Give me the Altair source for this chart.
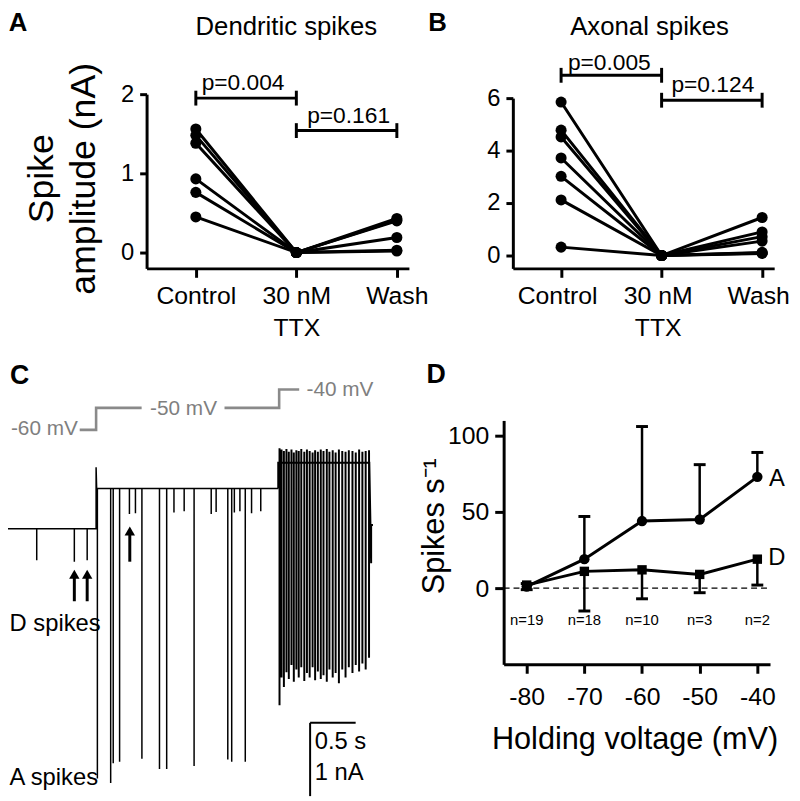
import altair as alt
import pandas as pd

FONT = "Liberation Sans"

# ---------------- Panel A / B data (spike amplitude, nA) ----------------
cond_pos = [0, 1, 2]
dend_control = [1.56, 1.48, 1.38, 0.93, 0.76, 0.45]
dend_ttx = [0.0, 0.0, 0.0, 0.0, 0.0, 0.0]
dend_wash = [0.43, 0.41, 0.19, 0.03, 0.02, 0.40]

axon_control = [5.85, 4.78, 4.52, 3.72, 3.02, 2.12, 0.32]
axon_ttx = [0.0, 0.0, 0.0, 0.0, 0.0, 0.0, 0.0]
axon_wash = [1.45, 0.90, 0.72, 0.55, 0.12, 0.10, 0.08]

p_from = [0, 1]
p_to = [1, 2]
pA_text = ["p=0.004", "p=0.161"]
pA_bar = [1.95, 1.54]
pA_tx = [0.47, 1.52]
pA_ty = [2.14, 1.72]
pB_text = ["p=0.005", "p=0.124"]
pB_bar = [6.87, 5.92]
pB_tx = [0.48, 1.51]
pB_ty = [7.32, 6.49]

# ---------------- Panel D data ----------------
hold_mv = [-80, -70, -60, -50, -40]
axon_rate = [1, 19, 44, 45, 73]
axon_err_hi = [3, 47, 106, 81, 89]
dend_rate = [2, 11, 12, 9, 19]
dend_err_lo = [-1, -15, -7, -3, 2]
n_labels = ["n=19", "n=18", "n=10", "n=3", "n=2"]

# ---------------- Panel C data (current trace, nA vs s) ----------------
base_60 = 0.0
base_50 = 0.55
base_40 = 0.90
t_step1 = 1.0
t_settle1 = 1.006
step1_peak = 0.84
t_step2 = 3.0
t_end = 4.0
d60_t = [0.348, 0.761, 0.902]
d60_amp = [-0.43, -0.45, -0.43]
a50_t = [1.014, 1.160, 1.188, 1.258, 1.503, 1.696, 1.775, 2.076, 2.446, 2.489, 2.638]
a50_amp = [-3.41, -3.47, -3.20, -3.18, -3.14, -3.28, -3.28, -3.24, -3.15, -3.18, -3.18]
d50_t = [1.366, 1.432, 1.855, 1.967, 2.264, 2.318, 2.518, 2.579, 2.707, 2.808]
d50_amp = [0.20, 0.21, 0.22, 0.24, 0.20, 0.23, 0.22, 0.24, 0.21, 0.24]
s40_t = [3.014, 3.036, 3.062, 3.090, 3.116, 3.145, 3.171, 3.199, 3.225, 3.253,
         3.286, 3.315, 3.345, 3.377, 3.405, 3.435, 3.467, 3.497, 3.533, 3.562,
         3.598, 3.630, 3.666, 3.703, 3.739, 3.775, 3.815, 3.851, 3.888, 3.924,
         3.960, 3.997]
s40_amp = [-2.41, -2.03, -2.16, -1.96, -2.05, -1.86, -2.09, -1.92, -2.03, -1.89,
           -2.08, -1.97, -2.03, -1.89, -2.07, -1.95, -2.05, -2.00, -2.09, -1.92,
           -2.03, -1.97, -2.11, -1.92, -2.03, -1.89, -1.97, -1.86, -1.95, -1.84,
           -1.92, -1.76]
s40_peak = [1.10, 1.08, 1.06, 1.09, 1.05, 1.08, 1.04, 1.07, 1.06, 1.09,
            1.05, 1.08, 1.06, 1.04, 1.07, 1.05, 1.08, 1.06, 1.09, 1.05,
            1.07, 1.04, 1.08, 1.06, 1.05, 1.07, 1.06, 1.04, 1.08, 1.05,
            1.06, 1.07]
tail_t = [4.02, 4.02, 4.04]
tail_v = [-0.47, 0.05, 0.05]

proto_t = [0.82, 1.0, 1.0, 1.50, 2.41, 3.01, 3.01, 3.23]
proto_v = [1.35, 1.35, 1.65, 1.65, 1.65, 1.65, 1.90, 1.90]
proto_seg = [0, 0, 0, 0, 1, 1, 1, 1]
proto_text = ["-60 mV", "-50 mV", "-40 mV"]
proto_tx = [0.80, 1.96, 3.31]
proto_ty = [1.36, 1.64, 1.89]
proto_align = ["right", "center", "left"]

arrow_t = [0.761, 0.902, 1.37]
arrow_base = [-0.99, -0.99, -0.45]
arrow_head = [-0.62, -0.62, -0.03]

scalebar_t = [3.35, 3.85]
scalebar_i = [-2.65, -3.65]

# ---------------- helpers ----------------
AX = dict(grid=False, domainColor="black", tickColor="black", labelColor="black",
          domainWidth=3, tickWidth=3, labelFont=FONT, titleFont=FONT,
          labelFlush=False, labelOverlap=False, titleFontWeight="normal",
          titleColor="black")


def txt(df, X, Y, size, align="center", weight="normal", color="black", baseline="middle"):
    return alt.Chart(df).mark_text(fontSize=size, align=align, baseline=baseline,
                                   fontWeight=weight, color=color, font=FONT).encode(
        X, Y, text="label:N")


def pair_panel(control, ttx, wash, xdom, xrange, ydom, yrange, yvals, yaxis_extra,
               yoff, bar_y, p_text, p_tx, p_ty, title, title_xy, letter, letter_xy, lab_off):
    rows = []
    for i, vals in enumerate(zip(control, ttx, wash)):
        for pos, v in zip(cond_pos, vals):
            rows.append({"cell": i, "x": pos, "y": v})
    df = pd.DataFrame(rows)
    xaxis = alt.Axis(values=cond_pos, orient="bottom", offset=-534, tickSize=9,
                     labelPadding=6, labelFontSize=25, labelLineHeight=33,
                     labelBaseline="top", title=None, labelOffset=lab_off,
                     labelExpr="datum.value == 0 ? 'Control' : (datum.value == 1 ? ['30 nM', 'TTX'] : 'Wash')",
                     **AX)
    yaxis = alt.Axis(values=yvals, orient="left", offset=yoff, tickSize=7,
                     labelPadding=6, labelFontSize=24, **yaxis_extra, **AX)
    X = alt.X("x:Q", scale=alt.Scale(domain=xdom, range=xrange, nice=False, zero=False), axis=xaxis)
    Y = alt.Y("y:Q", scale=alt.Scale(domain=ydom, range=yrange, nice=False, zero=False), axis=yaxis)
    lines = alt.Chart(df).mark_line(color="black", strokeWidth=3).encode(X, Y, detail="cell:N")
    pts = alt.Chart(df).mark_circle(color="black", size=125, opacity=1).encode(X, Y)
    br = pd.DataFrame({"x": p_from, "x2": p_to, "y": bar_y})
    hl = alt.Chart(br).mark_rule(color="black", strokeWidth=3).encode(X, alt.X2("x2:Q"), Y)
    caps = pd.DataFrame({"x": p_from + p_to, "y": bar_y + bar_y})
    cp = alt.Chart(caps).mark_tick(orient="vertical", size=15, thickness=3,
                                   color="black", opacity=1).encode(X, Y)
    pt = txt(pd.DataFrame({"x": p_tx, "y": p_ty, "label": p_text}), X, Y, 23)
    tt = txt(pd.DataFrame({"x": [title_xy[0]], "y": [title_xy[1]], "label": [title]}), X, Y, 26)
    lt = txt(pd.DataFrame({"x": [letter_xy[0]], "y": [letter_xy[1]], "label": [letter]}),
             X, Y, 26, weight="bold", baseline="alphabetic")
    return alt.layer(lines, pts, hl, cp, pt, tt, lt)


panelA = pair_panel(dend_control, dend_ttx, dend_wash, [-0.49, 2.12], [140, 405],
                    [-0.2, 2], [259, 83], [0, 1, 2],
                    dict(title=["Spike", "amplitude (nA)"], titleFontSize=36,
                         titleAngle=270, titleX=-106, titleY=168, titleAlign="center",
                         titleBaseline="middle", titleLineHeight=42),
                    -140, pA_bar, pA_text, pA_tx, pA_ty,
                    "Dendritic spikes", (0.9, 2.85), "A", (-1.77, 2.8), 0)

panelB = pair_panel(axon_control, axon_ttx, axon_wash, [-0.48, 2.12], [510, 774],
                    [-0.49, 6], [259, 87], [0, 2, 4, 6], dict(title=None),
                    -510, pB_bar, pB_text, pB_tx, pB_ty,
                    "Axonal spikes", (0.88, 8.7), "B", (-1.23, 8.57), -4)

# ---------------- Panel C ----------------
rows = []


def add(t, v):
    rows.append({"t": t, "v": v, "i": len(rows)})


add(0.0, base_60)
for t, a in zip(d60_t, d60_amp):
    add(t, base_60); add(t, a); add(t, base_60)
add(t_step1, base_60)
add(t_step1, step1_peak)
add(t_settle1, base_50)
events = sorted(list(zip(a50_t, a50_amp)) + list(zip(d50_t, d50_amp)))
for t, a in events:
    add(t, base_50); add(t, a); add(t, base_50)
add(t_step2, base_50)
trace_main = pd.DataFrame(rows)

rows = []
add(t_step2, base_50)
add(t_step2, base_40)
for t, a, p in zip(s40_t, s40_amp, s40_peak):
    add(t, base_40); add(t, p); add(t, a); add(t, base_40)
add(t_end, base_40)
for t, v in zip(tail_t, tail_v):
    add(t, v)
trace_40 = pd.DataFrame(rows)

SXC = alt.Scale(domain=[0, 4.2], range=[-3, 383.4], nice=False, zero=False)
SYC = alt.Scale(domain=[-4, 2.5], range=[818, 337], nice=False, zero=False)
XC = alt.X("t:Q", scale=SXC, axis=None)
YC = alt.Y("v:Q", scale=SYC, axis=None)

c_main = alt.Chart(trace_main).mark_line(color="black", strokeWidth=1.5).encode(XC, YC, order="i:Q")
c_40 = alt.Chart(trace_40).mark_line(color="black", strokeWidth=2.0).encode(XC, YC, order="i:Q")

proto = pd.DataFrame({"t": proto_t, "v": proto_v, "seg": proto_seg, "i": list(range(len(proto_t)))})
c_proto = alt.Chart(proto).mark_line(color="#8a8a8a", strokeWidth=2.6).encode(
    XC, YC, detail="seg:N", order="i:Q")
proto_lbl = pd.DataFrame({"t": proto_tx, "v": proto_ty, "label": proto_text, "al": proto_align})
c_proto_t = alt.layer(*[
    alt.Chart(proto_lbl[proto_lbl.al == al]).mark_text(
        fontSize=21, align=al, baseline="middle", color="#7f7f7f", font=FONT).encode(XC, YC, text="label:N")
    for al in ["right", "center", "left"]])

arr = pd.DataFrame({"t": arrow_t, "v": arrow_base, "v2": arrow_head})
c_arr = alt.Chart(arr).mark_rule(color="black", strokeWidth=3).encode(XC, YC, alt.Y2("v2:Q"))
c_head = alt.Chart(arr).mark_point(shape="triangle-up", filled=True, color="black",
                                   size=110, opacity=1).encode(XC, alt.Y("v2:Q", scale=SYC, axis=None))

sb_h = pd.DataFrame({"t": [scalebar_t[0]], "t2": [scalebar_t[1]], "v": [scalebar_i[0]]})
sb_v = pd.DataFrame({"t": [scalebar_t[0]], "v": [scalebar_i[0]], "v2": [scalebar_i[1]]})
c_sbh = alt.Chart(sb_h).mark_rule(color="black", strokeWidth=2).encode(XC, alt.X2("t2:Q"), YC)
c_sbv = alt.Chart(sb_v).mark_rule(color="black", strokeWidth=2).encode(XC, YC, alt.Y2("v2:Q"))

c_lbl = pd.DataFrame({"t": [3.40, 3.40, 0.05, 0.05], "v": [-2.91, -3.34, -1.30, -3.40],
                      "label": ["0.5 s", "1 nA", "D spikes", "A spikes"]})
c_lbl_t = txt(c_lbl, XC, YC, 24, align="left")
c_letter = txt(pd.DataFrame({"t": [0.16], "v": [2.09], "label": ["C"]}), XC, YC, 27, weight="bold")

panelC = alt.layer(c_proto, c_main, c_40, c_arr, c_head, c_sbh, c_sbv, c_proto_t, c_lbl_t, c_letter)

# ---------------- Panel D ----------------
SXD = alt.Scale(domain=[-84, -37.8], range=[500.7, 769.8], nice=False, zero=False)
SYD = alt.Scale(domain=[-50, 110], range=[659, 412.6], nice=False, zero=False)
AXD = alt.Axis(values=hold_mv, orient="bottom", offset=-134, tickSize=9, labelPadding=12,
               labelFontSize=25, labelExpr="'' + datum.value",
               title="Holding voltage (mV)", titleFontSize=31, titleX=633, titleY=76,
               titleAlign="center", titleBaseline="middle", **AX)
AYD = alt.Axis(values=[0, 50, 100], orient="left", offset=-500.7, tickSize=9, labelPadding=6,
               labelFontSize=25, labelExpr="'' + datum.value",
               title="Spikes s\u207b\u00b9", titleFontSize=31, titleAngle=270,
               titleX=-70, titleY=519, titleAlign="center", titleBaseline="middle", **AX)
XD = alt.X("x:Q", scale=SXD, axis=AXD)
YD = alt.Y("y:Q", scale=SYD, axis=AYD)
YD2 = alt.Y("y2:Q", scale=SYD, axis=AYD)

dA = pd.DataFrame({"x": hold_mv, "y": axon_rate, "y2": axon_err_hi})
dD = pd.DataFrame({"x": hold_mv, "y": dend_rate, "y2": dend_err_lo})
zero = pd.DataFrame({"x": [-84], "x2": [-37.8], "y": [0]})
d_zero = alt.Chart(zero).mark_rule(color="black", strokeWidth=1.5, strokeDash=[6, 4]).encode(XD, alt.X2("x2:Q"), YD)
d_errA = alt.Chart(dA).mark_rule(color="black", strokeWidth=2.5).encode(XD, YD, alt.Y2("y2:Q"))
d_capA = alt.Chart(dA).mark_tick(orient="horizontal", size=12, thickness=3, color="black", opacity=1).encode(XD, YD2)
d_errD = alt.Chart(dD).mark_rule(color="black", strokeWidth=2.5).encode(XD, YD, alt.Y2("y2:Q"))
d_capD = alt.Chart(dD).mark_tick(orient="horizontal", size=12, thickness=3, color="black", opacity=1).encode(XD, YD2)
d_lineA = alt.Chart(dA).mark_line(color="black", strokeWidth=3).encode(XD, YD)
d_lineD = alt.Chart(dD).mark_line(color="black", strokeWidth=3).encode(XD, YD)
d_ptA = alt.Chart(dA).mark_circle(color="black", size=110, opacity=1).encode(XD, YD)
d_ptD = alt.Chart(dD).mark_square(color="black", size=90, opacity=1).encode(XD, YD)
d_n = txt(pd.DataFrame({"x": hold_mv, "y": [-21] * 5, "label": n_labels}), XD, YD, 15)
d_ser = txt(pd.DataFrame({"x": [-36.6, -36.6], "y": [71.4, 20], "label": ["A", "D"]}), XD, YD, 24)
d_letter = txt(pd.DataFrame({"x": [-95.7], "y": [139.6], "label": ["D"]}), XD, YD, 27, weight="bold")

panelD = alt.layer(d_zero, d_errA, d_capA, d_errD, d_capD, d_lineA, d_lineD, d_ptA, d_ptD,
                   d_n, d_ser, d_letter)

chart = alt.layer(panelA, panelB, panelC, panelD).resolve_scale(
    x="independent", y="independent").properties(
    width=792, height=793, autosize=alt.AutoSizeParams(type="none"), padding=0
).configure_view(stroke="transparent")

chart.save("out.html", embed_options={"renderer": "svg", "actions": False})
